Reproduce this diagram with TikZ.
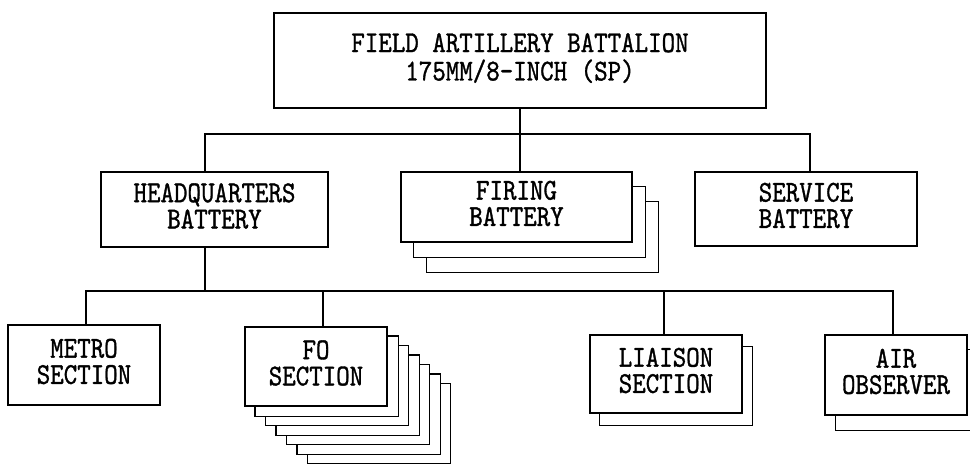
\documentclass[tikz,border=0pt]{standalone}
\usepackage{fontspec}
\newfontfamily\twfont{lmmono10-regular}[Extension=.otf, FakeBold=1.2]
\usepackage{graphicx}
\usetikzlibrary{backgrounds}
\newcommand\twtext[2]{\scalebox{1}[1.18]{\fontsize{25.7}{20.8}\selectfont\twfont\begin{tabular}{@{}c@{}}#1\\#2\end{tabular}}}
\begin{document}
\begin{tikzpicture}[x=1pt,y=-1pt,
  box/.style={draw, line width=1.3pt, fill=white, inner sep=0pt, align=center},
  ln/.style={line width=1.3pt},
  back/.style={draw, line width=1.3pt, fill=white}]
\useasboundingbox (0,0) rectangle (970,464);
% main boxes
\node[box, minimum width=492pt, minimum height=95pt] (top) at (520,60.5) {\twtext{FIELD ARTILLERY BATTALION}{175MM/8-INCH (SP)}};
\node[box, minimum width=227pt, minimum height=75pt] (hq) at (214.5,209.5) {\twtext{HEADQUARTERS}{BATTERY}};
\node[box, minimum width=231pt, minimum height=70pt] (fir) at (516.5,207) {\twtext{FIRING}{BATTERY}};
\node[box, minimum width=222pt, minimum height=74pt] (srv) at (806,209) {\twtext{SERVICE}{BATTERY}};
\node[box, minimum width=152pt, minimum height=80pt] (met) at (84,365) {\twtext{METRO}{SECTION}};
\node[box, minimum width=142pt, minimum height=79pt] (fo) at (316,366.5) {\twtext{FO}{SECTION}};
\node[box, minimum width=152pt, minimum height=78pt] (lia) at (666,374) {\twtext{LIAISON}{SECTION}};
\node[box, minimum width=142pt, minimum height=80pt] (air) at (896,375) {\twtext{AIR}{OBSERVER}};
% stacked copies behind
\begin{scope}[on background layer]
  \foreach \k in {2,1}
    \draw[back] ([shift={(13*\k,15*\k)}]fir.north west) rectangle ([shift={(13*\k,15*\k)}]fir.south east);
  \foreach \k in {6,5,4,3,2,1}
    \draw[back] ([shift={(10.5*\k,9.5*\k)}]fo.north west) rectangle ([shift={(10.5*\k,9.5*\k)}]fo.south east);
  \draw[back] ([shift={(10,12)}]lia.north west) rectangle ([shift={(10,12)}]lia.south east);
  \begin{scope}
    \clip (0,0) rectangle (970,464);
    \draw[back] ([shift={(11,15)}]air.north west) rectangle ([shift={(11,15)}]air.south east);
  \end{scope}
\end{scope}
% connectors
\coordinate (b1L) at (205,134);
\coordinate (b1R) at (810,134);
\coordinate (b2L) at (86,291);
\coordinate (b2R) at (893,291);
\coordinate (foT) at (323,291);
\coordinate (liaT) at (664,291);
\draw[ln] (top.south) -- (top.south |- fir.north);
\draw[ln] (b1L |- hq.north) -- (b1L) -- (b1R) -- (b1R |- srv.north);
\draw[ln] (b1L |- hq.south) -- (b1L |- b2L);
\draw[ln] (b2L |- met.north) -- (b2L) -- (b2R) -- (b2R |- air.north);
\draw[ln] (foT) -- (foT |- fo.north);
\draw[ln] (liaT) -- (liaT |- lia.north);
\end{tikzpicture}
\end{document}
